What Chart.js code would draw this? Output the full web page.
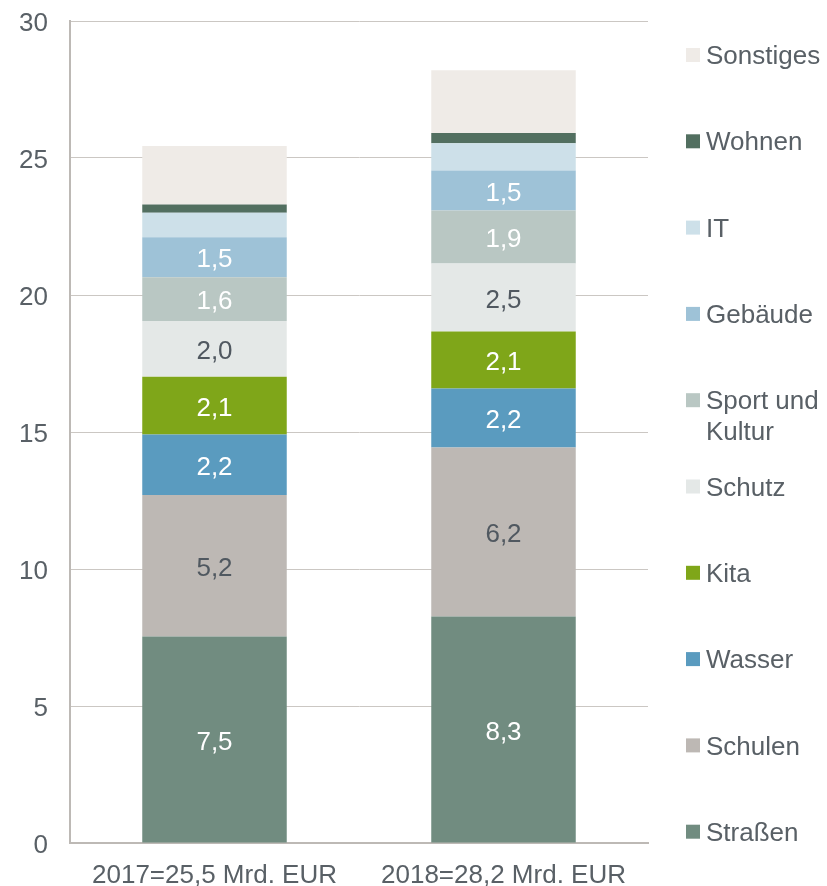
<!DOCTYPE html>
<html>
<head>
<meta charset="utf-8">
<script src="https://cdn.jsdelivr.net/npm/chart.js@4.4.1/dist/chart.umd.min.js"></script>
<style>
  html, body { margin: 0; padding: 0; background: #fff; }
  #wrap { width: 827px; height: 886px; }
</style>
</head>
<body>
<div id="wrap"><canvas id="myChart"></canvas></div>
<script>
"use strict";

// categories
const years = ["2017=25,5 Mrd. EUR", "2018=28,2 Mrd. EUR"];

// series (Mrd. EUR), bottom to top
const strassen = [7.54, 8.27];
const schulen = [5.16, 6.16];
const wasser = [2.21, 2.16];
const kita = [2.11, 2.08];
const schutz = [2.03, 2.48];
const sportKultur = [1.6, 1.93];
const gebaeude = [1.46, 1.46];
const it = [0.89, 1.0];
const wohnen = [0.3, 0.37];
const sonstiges = [2.14, 2.29];

// y axis
const yMin = 0;
const yMax = 30;
const yStep = 5;

const textColor = "#596066";
const fontFamily = "'Liberation Sans', Arial, sans-serif";

const data = {
  labels: years,
  datasets: [
    { label: "Straßen", data: strassen, backgroundColor: "#718c80", showLabel: true, labelColor: "#ffffff" },
    { label: "Schulen", data: schulen, backgroundColor: "#bdb8b4", showLabel: true, labelColor: "#505860" },
    { label: "Wasser", data: wasser, backgroundColor: "#5a9bbf", showLabel: true, labelColor: "#ffffff" },
    { label: "Kita", data: kita, backgroundColor: "#7fa619", showLabel: true, labelColor: "#ffffff" },
    { label: "Schutz", data: schutz, backgroundColor: "#e4e8e7", showLabel: true, labelColor: "#505860" },
    { label: ["Sport und", "Kultur"], data: sportKultur, backgroundColor: "#b9c7c3", showLabel: true, labelColor: "#ffffff" },
    { label: "Gebäude", data: gebaeude, backgroundColor: "#9ec2d7", showLabel: true, labelColor: "#ffffff" },
    { label: "IT", data: it, backgroundColor: "#cde0e9", showLabel: false },
    { label: "Wohnen", data: wohnen, backgroundColor: "#526f60", showLabel: false },
    { label: "Sonstiges", data: sonstiges, backgroundColor: "#efebe7", showLabel: false }
  ]
};

// values inside the bars
const barLabels = {
  id: "barLabels",
  afterDatasetsDraw(chart) {
    const ctx = chart.ctx;
    ctx.save();
    ctx.font = "26px " + fontFamily;
    ctx.textAlign = "center";
    ctx.textBaseline = "middle";
    chart.data.datasets.forEach((ds, i) => {
      if (!ds.showLabel) return;
      chart.getDatasetMeta(i).data.forEach((bar, j) => {
        const p = bar.getCenterPoint();
        ctx.fillStyle = ds.labelColor;
        ctx.fillText(ds.data[j].toFixed(1).replace(".", ","), p.x, p.y + 3);
      });
    });
    ctx.restore();
  }
};

// legend on the right, top item = top segment
const sideLegend = {
  id: "sideLegend",
  afterDraw(chart) {
    const ctx = chart.ctx;
    const area = chart.chartArea;
    const x = area.right + 38;
    const step = 86.3;
    let y = area.top + 34;
    ctx.save();
    ctx.font = "26px " + fontFamily;
    ctx.textAlign = "left";
    ctx.textBaseline = "middle";
    const items = chart.data.datasets.slice().reverse();
    items.forEach((ds) => {
      ctx.fillStyle = ds.backgroundColor;
      ctx.fillRect(x, y - 7, 14, 14);
      ctx.fillStyle = textColor;
      const lines = Array.isArray(ds.label) ? ds.label : [ds.label];
      lines.forEach((line, k) => {
        ctx.fillText(line, x + 20, y + 2 + k * 31);
      });
      y += step;
    });
    ctx.restore();
  }
};

const config = {
  type: "bar",
  data,
  options: {
    responsive: true,
    maintainAspectRatio: false,
    animation: false,
    layout: { padding: { top: 21, right: 179, bottom: 0, left: 0 } },
    plugins: {
      legend: { display: false },
      tooltip: { enabled: false }
    },
    datasets: {
      bar: { barPercentage: 0.5, categoryPercentage: 1.0 }
    },
    scales: {
      x: {
        stacked: true,
        grid: { display: false, drawTicks: false },
        border: { display: true, color: "#bdb9b5", width: 2 },
        ticks: {
          color: textColor,
          font: { size: 26, family: fontFamily },
          padding: 17,
          maxRotation: 0
        },
        afterFit(scale) { scale.height = 43; }
      },
      y: {
        stacked: true,
        min: yMin,
        max: yMax,
        grid: { color: "#cbc7c3", lineWidth: 1, drawTicks: false },
        border: { display: true, color: "#bdb9b5", width: 2 },
        ticks: {
          stepSize: yStep,
          color: textColor,
          font: { size: 26, family: fontFamily },
          padding: 22,
          labelOffset: 3
        },
        afterFit(scale) {
          scale.width = 70;
          scale.paddingTop = 0;
          scale.paddingBottom = 0;
        }
      }
    }
  },
  plugins: [barLabels, sideLegend]
};

const myChart = new Chart(document.getElementById("myChart"), config);
</script>
</body>
</html>
